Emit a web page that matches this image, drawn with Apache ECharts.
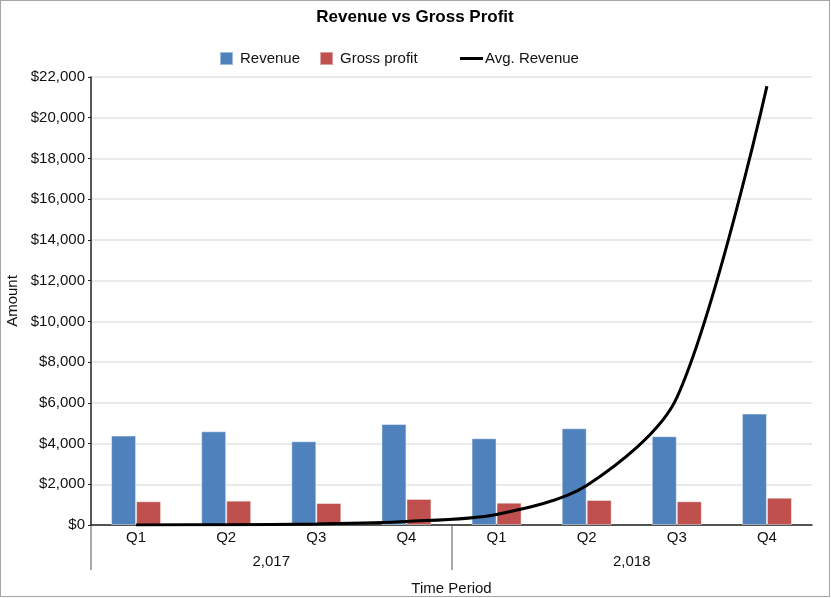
<!DOCTYPE html>
<html>
<head>
<meta charset="utf-8">
<script src="https://cdn.jsdelivr.net/npm/echarts@6/dist/echarts.min.js"></script>
<style>
  html, body { margin: 0; padding: 0; background: #fff; }
  #chart { width: 830px; height: 597px; box-sizing: border-box; border: 1px solid #a6a6a6; }
</style>
</head>
<body>
<div id="chart"></div>
<script>
const quarters = ['Q1', 'Q2', 'Q3', 'Q4', 'Q1', 'Q2', 'Q3', 'Q4'];
const years = ['2,017', '2,018'];
const revenue = [4390, 4600, 4110, 4960, 4260, 4750, 4360, 5470];
const grossProfit = [1165, 1195, 1080, 1280, 1095, 1230, 1165, 1340];
const avgRevenue = [5, 18, 55, 175, 520, 1940, 6250, 21550];
const yTicksMax = 22000;
const yTicksStep = 2000;

const FONT = '"Liberation Sans", Arial, sans-serif';
const chart = echarts.init(document.getElementById('chart'), null, { renderer: 'canvas' });

chart.setOption({
  animation: false,
  textStyle: { fontFamily: FONT },
  title: {
    text: 'Revenue vs Gross Profit',
    left: 'center',
    top: 8,
    padding: 0,
    textStyle: { fontFamily: FONT, fontSize: 17, fontWeight: 'bold', color: '#000' }
  },
  legend: [
    {
      data: ['Revenue', 'Gross profit'],
      left: 218,
      top: 50,
      padding: 0,
      itemWidth: 13,
      itemHeight: 13,
      itemGap: 19,
      icon: 'rect',
      textStyle: { fontFamily: FONT, fontSize: 15, color: '#111', padding: [0, 0, 0, 2] }
    },
    {
      data: [{ name: 'Avg. Revenue', icon: 'rect' }],
      left: 459,
      top: 50,
      padding: 0,
      itemWidth: 23,
      itemHeight: 3,
      textStyle: { fontFamily: FONT, fontSize: 15, color: '#111', padding: [0, 0, 0, -3] }
    }
  ],
  grid: [
    { left: 90, right: 17, top: 76, bottom: 71, containLabel: false, outerBoundsMode: 'none' },
    { left: 90, right: 17, top: 525, height: 44, containLabel: false, outerBoundsMode: 'none' }
  ],
  xAxis: [
    {
      type: 'category',
      gridIndex: 0,
      data: quarters,
      axisLine: { show: true, lineStyle: { color: '#222', width: 1.5 } },
      axisTick: { show: false },
      axisLabel: { fontFamily: FONT, fontSize: 15, color: '#111', margin: 5, interval: 0 },
      splitLine: { show: false }
    },
    {
      type: 'category',
      gridIndex: 1,
      data: years,
      position: 'bottom',
      axisLine: { show: false },
      axisTick: { show: false },
      axisLabel: { inside: true, fontFamily: FONT, fontSize: 15, color: '#111', margin: 1 },
      splitLine: { show: true, showMinLine: true, showMaxLine: false, lineStyle: { color: '#8c8c8c', width: 1.5 } },
      name: 'Time Period',
      nameLocation: 'middle',
      nameGap: 11,
      nameTextStyle: { fontFamily: FONT, fontSize: 15, color: '#111' }
    }
  ],
  yAxis: [
    {
      type: 'value',
      gridIndex: 0,
      min: 0,
      max: yTicksMax,
      interval: yTicksStep,
      name: 'Amount',
      nameLocation: 'middle',
      nameGap: 67,
      nameTextStyle: { fontFamily: FONT, fontSize: 15, color: '#111' },
      axisLine: { show: true, lineStyle: { color: '#222', width: 1.5 } },
      axisTick: { show: true, length: 3, lineStyle: { color: '#222' } },
      axisLabel: {
        fontFamily: FONT, fontSize: 15, color: '#111', margin: 6,
        formatter: v => '$' + v.toLocaleString('en-US')
      },
      splitLine: { show: true, lineStyle: { color: '#e3e3e3', width: 1.5 } }
    },
    {
      type: 'value',
      gridIndex: 1,
      show: false
    }
  ],
  series: [
    {
      name: 'Revenue',
      type: 'bar',
      xAxisIndex: 0,
      yAxisIndex: 0,
      data: revenue,
      barWidth: 25,
      barGap: '0%',
      itemStyle: { color: '#4f81bd', borderColor: 'rgba(255,255,255,0.45)', borderWidth: 1 }
    },
    {
      name: 'Gross profit',
      type: 'bar',
      xAxisIndex: 0,
      yAxisIndex: 0,
      data: grossProfit,
      barWidth: 25,
      barGap: '0%',
      itemStyle: { color: '#c0504d', borderColor: 'rgba(255,255,255,0.45)', borderWidth: 1 }
    },
    {
      name: 'Avg. Revenue',
      type: 'line',
      xAxisIndex: 0,
      yAxisIndex: 0,
      data: avgRevenue,
      smooth: 0.3,
      showSymbol: false,
      symbol: 'none',
      z: 5,
      itemStyle: { color: '#000' },
      lineStyle: { color: '#000', width: 3 }
    }
  ]
});
</script>
</body>
</html>
